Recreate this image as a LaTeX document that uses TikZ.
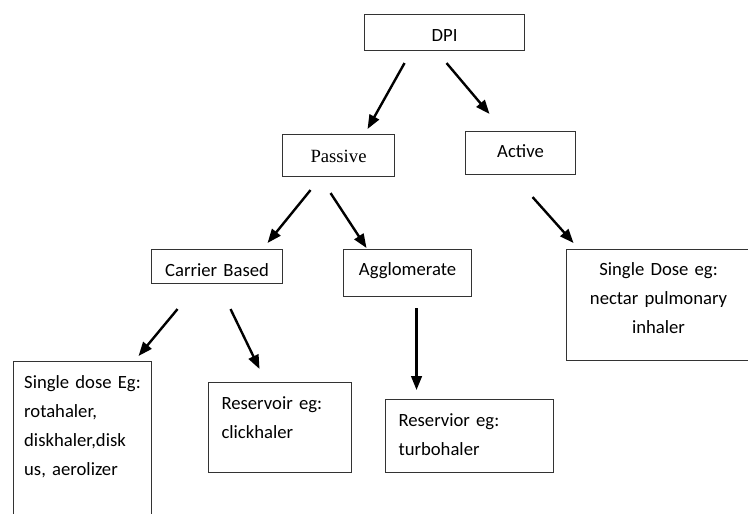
\documentclass[tikz,border=0pt]{standalone}
\usepackage{fontspec}
\setmainfont{Carlito}
\newfontfamily\tnrfont{Liberation Serif}
\usetikzlibrary{arrows.meta}
\tikzset{
  box/.style={
    draw=black!80,
    line width=0.8pt,
    anchor=north west,
    inner xsep=9.75pt,
    inner ysep=0pt,
    text height=20.25pt,
    font=\fontsize{14}{21.75}\selectfont,
  },
  topbox/.style 2 args={
    box,
    align=center,
    text width=#1,
    text depth=#2,
  },
  notebox/.style 2 args={
    box,
    align=left,
    text width=#1,
    text depth=#2,
  },
  branch/.style={
    -{Triangle[length=10.5pt,width=8pt]},
    line width=1.8pt,
  },
}

\begin{document}
\begin{tikzpicture}[x=0.75pt,y=-0.75pt]
  \useasboundingbox (0,0) rectangle (748,513);
  \fill[white] (0,0) rectangle (748,513);

  % levels
  \node[topbox={100.5pt}{6.75pt}] (dpi) at (364,14) {DPI};
  \node[topbox={64.5pt}{10.5pt},text height=21pt,font=\tnrfont\fontsize{14}{17}\selectfont] (passive) at (282,134) {Passive};
  \node[topbox={63pt}{12.75pt},text height=19.5pt] (active) at (465,131) {Active};
  \node[topbox={78.75pt}{5.25pt}] (carrier) at (151,249) {Carrier Based};
  \node[topbox={76.5pt}{15.75pt},text height=19.5pt] (agglom) at (343,249) {Agglomerate};

  % examples
  \node[topbox={118.5pt}{63.75pt},text height=19.5pt] (sdactive) at (566,249)
    {Single Dose eg:\\ nectar pulmonary\\ inhaler};
  \node[notebox={87.5pt}{106.5pt},inner xsep=8pt] (sdcarrier) at (13,361)
    {Single dose Eg:\\ rotahaler,\\ diskhaler,disk\\ us, aerolizer};
  \node[notebox={87.75pt}{47.25pt}] (resclick) at (208,382)
    {Reservoir eg:\\ clickhaler};
  \node[notebox={106.5pt}{34.5pt}] (resturbo) at (385,399)
    {Reservior eg:\\ turbohaler};

  \draw[branch] ([shift={(-40,12)}]dpi.south) -- ([shift={(29,-5)}]passive.north);
  \draw[branch] ([shift={(2,12)}]dpi.south) -- ([shift={(-31,-17)}]active.north);
  \draw[branch] ([shift={(-28,13)}]passive.south) -- ([shift={(50.5,-6)}]carrier.north);
  \draw[branch] ([shift={(-8,16)}]passive.south) -- ([shift={(-41,-1)}]agglom.north);
  \draw[branch] ([shift={(12,22)}]active.south) -- ([shift={(-85,-6)}]sdactive.north);
  \draw[branch] ([shift={(-39.5,25)}]carrier.south) -- ([shift={(56,-5)}]sdcarrier.north);
  \draw[branch] ([shift={(13.5,25)}]carrier.south) -- ([shift={(-20.5,-13)}]resclick.north);
  \draw[branch] ([shift={(9,11)}]agglom.south) -- ([shift={(-53,-9)}]resturbo.north);
\end{tikzpicture}
\end{document}
